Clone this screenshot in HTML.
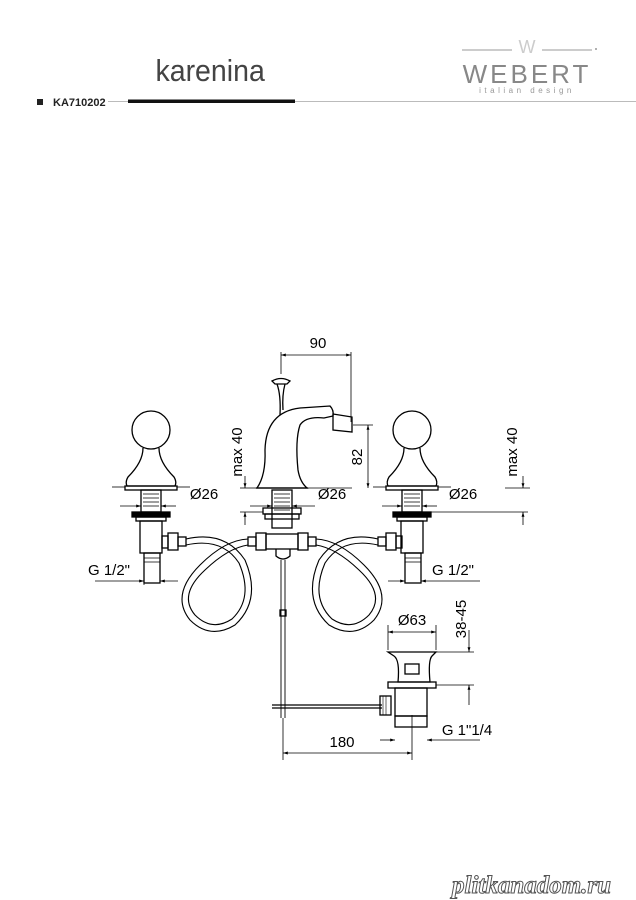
<!DOCTYPE html>
<html><head><meta charset="utf-8"><style>
html,body{margin:0;padding:0;background:#fff;width:636px;height:900px;overflow:hidden}
svg{display:block}
text{font-family:"Liberation Sans",sans-serif}
</style></head><body>
<svg width="636" height="900" viewBox="0 0 636 900" xmlns="http://www.w3.org/2000/svg">
<defs>
<marker id="a" viewBox="0 0 10 10" refX="10" refY="5" markerWidth="6" markerHeight="6" orient="auto-start-reverse"><path d="M0,2 L10,5 L0,8 z" fill="#000"/></marker>
</defs>
<!-- header -->
<text x="156" y="81" font-size="31" fill="#444" font-weight="normal" style="font-family:'Liberation Sans Narrow','Liberation Sans',sans-serif" transform="scale(0.92,1) translate(13,0)">karenina</text>
<line x1="462" y1="50" x2="512" y2="50" stroke="#bbb" stroke-width="1.5"/>
<line x1="542" y1="50" x2="592" y2="50" stroke="#bbb" stroke-width="1.5"/>
<text x="527" y="53" font-size="18" fill="#ccc" text-anchor="middle">W</text>
<text x="527" y="83" font-size="26" fill="#888" text-anchor="middle" letter-spacing="3">WEBERT</text>
<text x="527" y="93" font-size="8" fill="#999" text-anchor="middle" letter-spacing="3.5">italian design</text>
<circle cx="596" cy="49" r="1" fill="#999"/>
<rect x="37" y="99" width="6" height="6" fill="#222"/>
<text x="53" y="106" font-size="11" font-weight="bold" fill="#222">KA710202</text>
<line x1="108" y1="101.5" x2="636" y2="101.5" stroke="#bbb" stroke-width="1"/>
<rect x="128" y="99.5" width="167" height="3.5" fill="#111"/>

<g fill="none" stroke="#000" stroke-width="1.3">
<!-- dimension 90 -->
<line x1="281" y1="355" x2="351" y2="355" stroke-width="0.8" marker-start="url(#a)" marker-end="url(#a)"/>
<line x1="281" y1="352" x2="281" y2="374" stroke-width="0.8"/>
<line x1="351" y1="352" x2="351" y2="422" stroke-width="0.8"/>
<!-- handle -->
<path d="M272,381 Q281,376 290,381 L287,384 L275,384 Z"/>
<path d="M277,384 Q281,395 280,415 M285,384 Q282,395 283,410"/>
<!-- spout body -->
<path d="M257,488 Q266,475 265,450 Q266,412 300,408 L330,406 Q334,410 333,416 L324,418 Q306,416 300,425 Q295,440 298,470 Q300,482 307,488 Z"/>
<path d="M333,414 L352,417 L352,432 L333,430 Z"/>
<line x1="256" y1="488" x2="308" y2="488"/>
<!-- 82 -->
<line x1="368" y1="425" x2="368" y2="488" stroke-width="0.8" marker-start="url(#a)" marker-end="url(#a)"/>
<line x1="353" y1="425" x2="373" y2="425" stroke-width="0.8"/>
<!-- center shank -->
<rect x="272" y="490" width="20" height="38"/>
<path d="M274,494h16M274,498h16M274,502h16M274,506h16M274,510h16" stroke-width="0.7"/>
<rect x="263" y="508" width="38" height="6"/>
<rect x="265" y="514" width="34" height="5"/>
<line x1="240" y1="488" x2="256" y2="488" stroke-width="0.8"/>
<line x1="308" y1="488" x2="352" y2="488" stroke-width="0.8"/>
<line x1="245" y1="476" x2="245" y2="488" stroke-width="0.8" marker-end="url(#a)"/>
<line x1="245" y1="512" x2="245" y2="525" stroke-width="0.8" marker-start="url(#a)"/>
<line x1="240" y1="512" x2="263" y2="512" stroke-width="0.8"/>
<line x1="250" y1="506" x2="272" y2="506" stroke-width="0.8" marker-end="url(#a)"/>
<line x1="292" y1="506" x2="315" y2="506" stroke-width="0.8" marker-start="url(#a)"/>

<!-- knobs -->
<g id="k">
<circle cx="151" cy="430" r="19"/>
<path d="M143,448 Q143,462 128,477 Q125,482 127,486 L175,486 Q177,482 174,477 Q159,462 159,448"/>
<rect x="125" y="486" width="52" height="4"/>
<rect x="141" y="490" width="20" height="22"/>
<path d="M143,494h16M143,498h16M143,502h16M143,506h16" stroke-width="0.7"/>
<rect x="132" y="512" width="38" height="5" fill="#000"/>
<rect x="136" y="517" width="30" height="4"/>
<rect x="140" y="521" width="22" height="32"/>
<rect x="144" y="553" width="16" height="30"/>
<path d="M144,558h16M144,562h16" stroke-width="0.7"/>
</g>
<use href="#k" transform="translate(261,0)"/>
<line x1="112" y1="487" x2="125" y2="487" stroke-width="0.8"/>
<line x1="177" y1="487" x2="190" y2="487" stroke-width="0.8"/>
<line x1="120" y1="506" x2="141" y2="506" stroke-width="0.8" marker-end="url(#a)"/>
<line x1="161" y1="506" x2="176" y2="506" stroke-width="0.8" marker-start="url(#a)"/>
<line x1="373" y1="487" x2="386" y2="487" stroke-width="0.8"/>
<line x1="438" y1="487" x2="451" y2="487" stroke-width="0.8"/>
<line x1="382" y1="506" x2="402" y2="506" stroke-width="0.8" marker-end="url(#a)"/>
<line x1="422" y1="506" x2="437" y2="506" stroke-width="0.8" marker-start="url(#a)"/>
<!-- max 40 right -->
<line x1="505" y1="488" x2="530" y2="488" stroke-width="0.8"/>
<line x1="431" y1="512" x2="528" y2="512" stroke-width="0.8"/>
<line x1="523" y1="476" x2="523" y2="488" stroke-width="0.8" marker-end="url(#a)"/>
<line x1="523" y1="512" x2="523" y2="525" stroke-width="0.8" marker-start="url(#a)"/>

<!-- connectors -->
<rect x="162" y="536" width="6" height="12"/><rect x="168" y="533" width="10" height="17"/><rect x="178" y="537" width="8" height="9"/>
<rect x="396" y="536" width="6" height="12" transform="translate(0,0)"/><rect x="386" y="533" width="10" height="17"/><rect x="378" y="537" width="8" height="9"/>
<!-- central tee -->
<rect x="248" y="537" width="8" height="9"/><rect x="256" y="533" width="10" height="17"/>
<rect x="266" y="534" width="32" height="15"/>
<rect x="298" y="533" width="10" height="17"/><rect x="308" y="537" width="8" height="9"/>
<path d="M276,549 L276,556 Q283,562 290,556 L290,549"/>
<!-- hoses -->
<path d="M186,539 Q225,530 245,560 Q262,600 235,625 Q210,640 190,620 Q170,595 200,565 Q225,540 248,539" stroke-width="1.1"/>
<path d="M186,545 Q222,537 239,563 Q254,598 232,619 Q212,632 195,615 Q178,595 205,570 Q228,548 248,545" stroke-width="1.1"/>
<path d="M378,539 Q339,530 319,560 Q302,600 329,625 Q354,640 374,620 Q394,595 364,565 Q339,540 316,539" stroke-width="1.1"/>
<path d="M378,545 Q342,537 325,563 Q310,598 332,619 Q352,632 369,615 Q386,595 359,570 Q336,548 316,545" stroke-width="1.1"/>
<!-- rod -->
<line x1="281" y1="560" x2="281" y2="718" stroke-width="0.9"/>
<line x1="285" y1="560" x2="285" y2="718" stroke-width="0.9"/>
<rect x="280" y="610" width="6" height="6"/>
<line x1="272" y1="705" x2="382" y2="705"/>
<line x1="272" y1="708" x2="382" y2="708"/>
<rect x="380" y="696" width="11" height="19"/>
<path d="M383,696v19M386,696v19" stroke-width="0.6"/>
<!-- waste -->
<path d="M388,652 L436,652 L432,656 Q428,660 430,682 L398,682 Q400,660 394,656 Z"/>
<rect x="405" y="664" width="14" height="10"/>
<rect x="388" y="682" width="48" height="6"/>
<rect x="395" y="688" width="32" height="28"/>
<rect x="395" y="716" width="32" height="11"/>
<!-- dims waste -->
<line x1="388" y1="625" x2="388" y2="650" stroke-width="0.8"/>
<line x1="436" y1="625" x2="436" y2="650" stroke-width="0.8"/>
<line x1="388" y1="632" x2="436" y2="632" stroke-width="0.8" marker-start="url(#a)" marker-end="url(#a)"/>
<line x1="436" y1="652" x2="474" y2="652" stroke-width="0.8"/>
<line x1="436" y1="685" x2="474" y2="685" stroke-width="0.8"/>
<line x1="469" y1="630" x2="469" y2="652" stroke-width="0.8" marker-end="url(#a)"/>
<line x1="469" y1="685" x2="469" y2="705" stroke-width="0.8" marker-start="url(#a)"/>
<line x1="380" y1="740" x2="395" y2="740" stroke-width="0.8" marker-end="url(#a)"/>
<line x1="427" y1="740" x2="480" y2="740" stroke-width="0.8" marker-start="url(#a)"/>
<line x1="283" y1="718" x2="283" y2="760" stroke-width="0.8"/>
<line x1="412" y1="715" x2="412" y2="760" stroke-width="0.8"/>
<line x1="283" y1="753" x2="412" y2="753" stroke-width="0.8" marker-start="url(#a)" marker-end="url(#a)"/>
<!-- G 1/2 dims -->
<line x1="95" y1="581" x2="144" y2="581" stroke-width="0.8" marker-end="url(#a)"/>
<line x1="160" y1="581" x2="178" y2="581" stroke-width="0.8" marker-start="url(#a)"/>
<line x1="144" y1="583" x2="144" y2="585" stroke-width="0.8"/>
<line x1="388" y1="581" x2="405" y2="581" stroke-width="0.8" marker-end="url(#a)"/>
<line x1="421" y1="581" x2="480" y2="581" stroke-width="0.8" marker-start="url(#a)"/>
</g>

<g font-size="15" fill="#000">
<text x="318" y="348" text-anchor="middle">90</text>
<text x="204" y="499" text-anchor="middle">Ø26</text>
<text x="332" y="499" text-anchor="middle">Ø26</text>
<text x="463" y="499" text-anchor="middle">Ø26</text>
<text transform="translate(242,452) rotate(-90)" text-anchor="middle">max 40</text>
<text transform="translate(517,452) rotate(-90)" text-anchor="middle">max 40</text>
<text transform="translate(362,457) rotate(-90)" text-anchor="middle">82</text>
<text x="109" y="575" text-anchor="middle">G 1/2"</text>
<text x="453" y="575" text-anchor="middle">G 1/2"</text>
<text x="412" y="625" text-anchor="middle">Ø63</text>
<text transform="translate(466,619) rotate(-90)" text-anchor="middle">38-45</text>
<text x="467" y="735" text-anchor="middle">G 1"1/4</text>
<text x="342" y="747" text-anchor="middle">180</text>
</g>
<text x="452" y="893" font-size="25" font-weight="bold" font-style="italic" fill="#fff" stroke="#555" stroke-width="1" style="font-family:'Liberation Serif',serif">plitkanadom.ru</text>
</svg>
</body></html>
